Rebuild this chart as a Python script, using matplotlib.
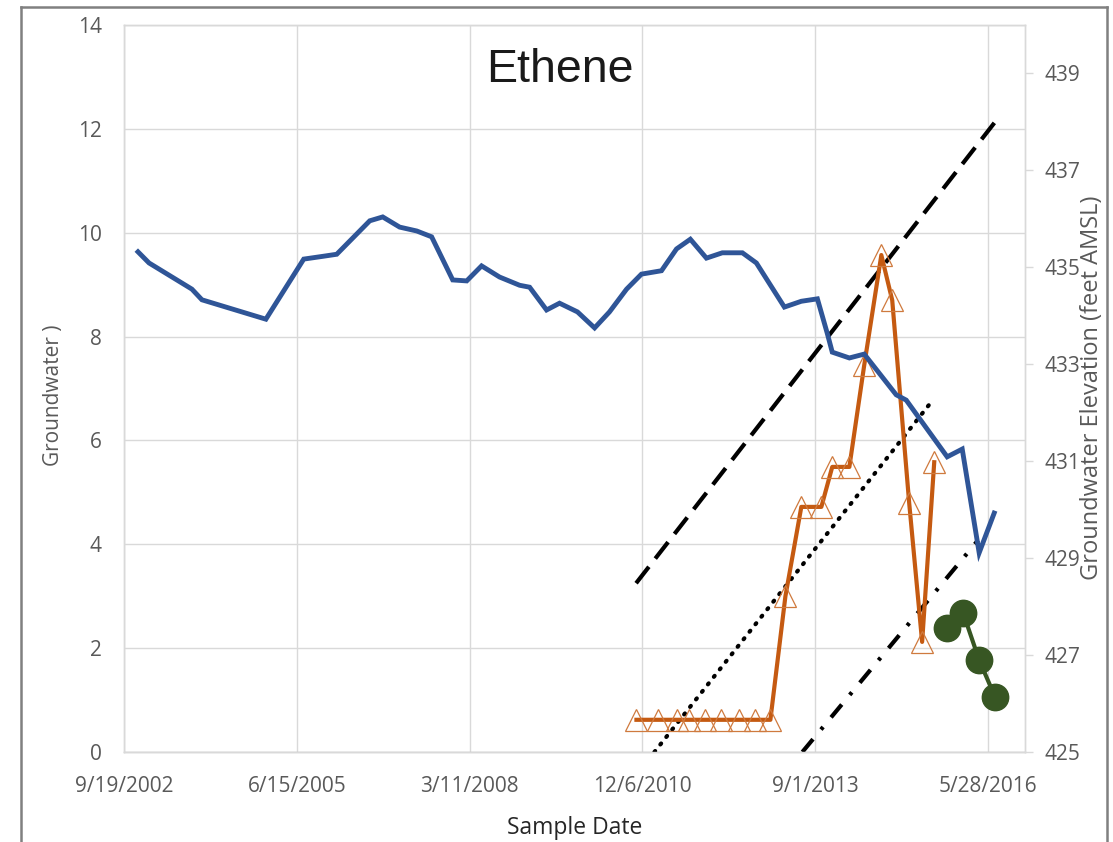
import matplotlib
matplotlib.use("Agg")
import matplotlib.pyplot as plt
from matplotlib.lines import Line2D
import pandas as pd

# Groundwater elevation (feet AMSL) - right axis
gw_dates = ['2002-12-09', '2003-02-11', '2003-10-17', '2003-12-14', '2004-12-18',
            '2005-07-25', '2005-11-18', '2006-02-01', '2006-08-11', '2006-10-25',
            '2007-01-31', '2007-05-10', '2007-08-04', '2007-12-04', '2008-02-23',
            '2008-05-19', '2008-08-31', '2008-12-25', '2009-02-21', '2009-05-30',
            '2009-08-13', '2009-11-25', '2010-03-04', '2010-05-29', '2010-09-05',
            '2010-11-30', '2011-03-26', '2011-06-21', '2011-09-09', '2011-12-11',
            '2012-03-12', '2012-07-06', '2012-09-25', '2013-03-06', '2013-06-12',
            '2013-09-13', '2013-11-09', '2013-12-08', '2014-03-17', '2014-06-11',
            '2014-12-13', '2015-02-09', '2015-10-04', '2015-12-30', '2016-04-06',
            '2016-07-02']
gw_elev = [435.32, 435.09, 434.55, 434.33, 433.93,
           435.17, 435.23, 435.27, 435.96, 436.04,
           435.83, 435.75, 435.63, 434.74, 434.72,
           435.03, 434.80, 434.63, 434.59, 434.12,
           434.26, 434.08, 433.75, 434.08, 434.55,
           434.86, 434.93, 435.38, 435.58, 435.19,
           435.30, 435.30, 435.09, 434.18, 434.30,
           434.35, 433.64, 433.25, 433.13, 433.21,
           432.37, 432.26, 431.09, 431.25, 429.11,
           429.93]

# Ethene concentrations - left axis
eth_dates = ['2010-11-01', '2011-03-03', '2011-06-26', '2011-09-04', '2011-12-05',
             '2012-03-07', '2012-06-19', '2012-09-19', '2012-12-15', '2013-03-12',
             '2013-06-12', '2013-10-06', '2013-12-08', '2014-03-17', '2014-06-11',
             '2014-09-18', '2014-11-20', '2015-02-26', '2015-05-12', '2015-07-21']
eth_conc = [0.62, 0.62, 0.62, 0.62, 0.62,
            0.62, 0.62, 0.62, 0.62, 3.0,
            4.72, 4.72, 5.49, 5.49, 7.45,
            9.57, 8.7, 4.8, 2.12, 5.58]

# second well (green circles)
grn_dates = ['2015-10-04', '2016-01-04', '2016-04-06', '2016-07-07']
grn_conc = [2.39, 2.68, 1.77, 1.06]

# trend lines (end points)
dash_dates = ['2010-10-30', '2016-07-25']
dash_vals = [3.25, 12.21]
dot_dates = ['2011-02-13', '2015-07-04']
dot_vals = [0.0, 6.74]
dashdot_dates = ['2013-06-18', '2016-03-31']
dashdot_vals = [0.0, 4.08]

# x ticks
xtick_dates = ['2002-09-19', '2005-06-15', '2008-03-11', '2010-12-06', '2013-09-01', '2016-05-28']
xtick_labels = ['9/19/2002', '6/15/2005', '3/11/2008', '12/6/2010', '9/1/2013', '5/28/2016']


def main():
    tick_col = '#595959'
    grid_col = '#D9D9D9'
    W, H = 1113, 842

    fig = plt.figure(figsize=(W / 100, H / 100), dpi=100)
    ax = fig.add_axes([0.1114, 0.1069, 0.9209 - 0.1114, 0.9703 - 0.1069])
    ax2 = ax.twinx()

    # trend lines
    ax.plot(pd.to_datetime(dash_dates), dash_vals, color='black', lw=3,
            dashes=(5, 2.5), zorder=3)
    ax.plot(pd.to_datetime(dot_dates), dot_vals, color='black', lw=3,
            linestyle=(0, (0.3, 2.0)), dash_capstyle='round', zorder=3)
    ax.plot(pd.to_datetime(dashdot_dates), dashdot_vals, color='black', lw=3,
            dashes=(4, 3, 0.8, 3), zorder=3)

    # ethene
    ax.plot(pd.to_datetime(eth_dates), eth_conc, color='#C55A11', lw=3,
            marker='^', ms=16, mfc='none', mec='#CF7A3E', mew=0.9, zorder=4)
    ax.plot(pd.to_datetime(grn_dates), grn_conc, color='#375623', lw=3,
            marker='o', ms=19, mfc='#375623', mec='#375623', zorder=5)

    # groundwater elevation
    ax2.plot(pd.to_datetime(gw_dates), gw_elev, color='#2F5597', lw=3.5,
             solid_joinstyle='miter', zorder=5)

    # axes
    ax.set_xlim(pd.Timestamp('2002-09-19'), pd.Timestamp('2016-12-27'))
    ax.set_ylim(0, 14)
    ax2.set_ylim(425, 440)
    ax.set_yticks(range(0, 15, 2))
    ax2.set_yticks(range(425, 440, 2))
    ax.set_xticks(pd.to_datetime(xtick_dates))
    ax.set_xticklabels(xtick_labels)

    ax.grid(True, color=grid_col, lw=1)
    ax.set_axisbelow(True)

    for a in (ax, ax2):
        for s in a.spines.values():
            s.set_color(grid_col)
            s.set_linewidth(1)
    ax.spines['bottom'].set_color('#BFBFBF')

    ax.tick_params(axis='x', length=0, colors=tick_col, pad=17)
    ax.tick_params(axis='y', length=0, colors=tick_col, pad=16)
    ax2.tick_params(axis='y', length=6, width=1, color=grid_col,
                    labelcolor=tick_col, pad=8)
    for lbl in ax.get_xticklabels() + ax.get_yticklabels() + ax2.get_yticklabels():
        lbl.set_family('Open Sans')
        lbl.set_fontsize(15)

    ax.set_xlabel('Sample Date', family='Open Sans', fontsize=16.5, color='#262626',
                  labelpad=14)

    # axis titles placed in figure pixels
    fig.text(53 / W, 1 - 395 / H, 'Groundwater )', rotation=90, ha='center', va='center',
             family='Open Sans', fontsize=15, color=tick_col)
    fig.text(1092 / W, 1 - 388 / H, 'Groundwater Elevation (feet AMSL)', rotation=90,
             ha='center', va='center', family='Open Sans', fontsize=17, color=tick_col)

    ax.text(0.484, 0.938, 'Ethene', transform=ax.transAxes, ha='center', va='center',
            family='Liberation Sans', fontsize=33.5, color='#1a1a1a')

    # outer chart frame (bottom edge is cut off in the original)
    x0, x1, y0 = 21 / W, 1107 / W, 1 - 7 / H
    for xs, ys in (([x0, x0], [-0.1, y0]), ([x0, x1], [y0, y0]), ([x1, x1], [y0, -0.1])):
        fig.add_artist(Line2D(xs, ys, transform=fig.transFigure, color='#808080', lw=1.8))

    fig.savefig('out.png', dpi=100)


if __name__ == "__main__":
    main()
